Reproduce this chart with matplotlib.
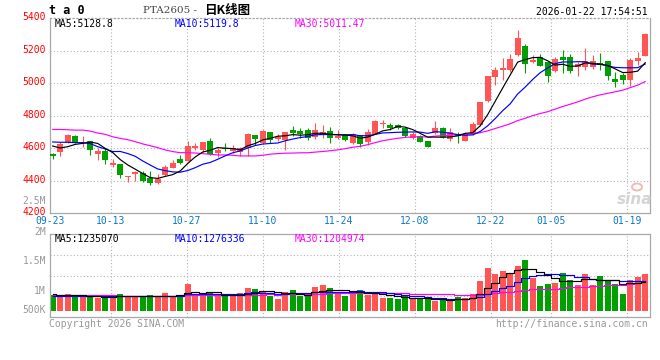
import numpy as np
import pandas as pd
import matplotlib
matplotlib.use('Agg')
import matplotlib.pyplot as plt
from matplotlib.patches import Ellipse
from matplotlib.transforms import ScaledTranslation

# ---------------- data ----------------
date_labels = ['09-23', '10-13', '10-27', '11-10', '11-24', '12-08', '12-22', '01-05', '01-19']
date_index = [0, 8, 18, 28, 38, 48, 58, 66, 76]

opens = [4565, 4580, 4637, 4675, 4649, 4645, 4567, 4584, 4498, 4502,
         4425, 4439, 4449, 4418, 4384, 4435, 4480, 4535, 4522, 4600,
         4590, 4645, 4573, 4604, 4586, 4580, 4600, 4682, 4630, 4701,
         4658, 4654, 4715, 4707, 4713, 4668, 4682, 4707, 4666, 4680,
         4635, 4682, 4641, 4687, 4748, 4744, 4744, 4724, 4662, 4676,
         4645, 4693, 4728, 4657, 4687, 4647, 4687, 4742, 4891, 5037,
         5084, 5084, 5174, 5231, 5129, 5163, 5129, 5074, 5159, 5163,
         5098, 5098, 5098, 5127, 5139, 5027, 5051, 5023, 5139, 5169]
highs = [4573, 4637, 4688, 4680, 4675, 4647, 4604, 4600, 4533, 4504,
         4429, 4459, 4459, 4459, 4439, 4500, 4529, 4559, 4645, 4630,
         4640, 4665, 4604, 4633, 4620, 4610, 4692, 4684, 4714, 4703,
         4687, 4703, 4738, 4724, 4724, 4757, 4744, 4730, 4713, 4687,
         4695, 4683, 4720, 4777, 4775, 4757, 4750, 4730, 4699, 4682,
         4646, 4765, 4730, 4722, 4702, 4702, 4763, 4887, 5047, 5098,
         5155, 5180, 5328, 5241, 5174, 5180, 5129, 5159, 5206, 5180,
         5133, 5220, 5174, 5186, 5139, 5072, 5064, 5155, 5194, 5312]
lows = [4533, 4555, 4630, 4630, 4610, 4559, 4529, 4504, 4486, 4420,
        4390, 4398, 4392, 4376, 4380, 4431, 4476, 4502, 4522, 4590,
        4580, 4559, 4549, 4584, 4569, 4555, 4552, 4621, 4625, 4635,
        4647, 4592, 4676, 4662, 4654, 4660, 4662, 4631, 4658, 4647,
        4627, 4610, 4621, 4685, 4728, 4711, 4717, 4672, 4656, 4637,
        4606, 4689, 4661, 4646, 4635, 4647, 4681, 4736, 4885, 4990,
        5021, 5068, 5167, 5062, 5123, 5104, 5007, 5068, 5062, 5062,
        5043, 5084, 5088, 5084, 5023, 4976, 4997, 4982, 5113, 5169]
closes = [4555, 4624, 4682, 4637, 4654, 4592, 4586, 4529, 4510, 4437,
          4427, 4455, 4396, 4384, 4412, 4488, 4510, 4508, 4614, 4614,
          4639, 4565, 4590, 4596, 4600, 4604, 4688, 4660, 4706, 4649,
          4668, 4701, 4697, 4689, 4662, 4713, 4701, 4666, 4678, 4652,
          4687, 4627, 4701, 4765, 4757, 4728, 4724, 4678, 4689, 4641,
          4610, 4728, 4672, 4698, 4675, 4687, 4748, 4885, 5043, 5084,
          5096, 5149, 5281, 5119, 5145, 5104, 5043, 5149, 5145, 5078,
          5119, 5135, 5139, 5115, 5043, 5011, 5023, 5145, 5153, 5302]
volumes = [654000, 640000, 711000, 625000, 625000, 625000, 540000, 611000, 569000, 711000,
           611000, 640000, 569000, 668000, 583000, 753000, 640000, 640000, 1137000, 725000,
           682000, 796000, 611000, 611000, 611000, 753000, 967000, 924000, 853000, 640000,
           498000, 796000, 881000, 640000, 611000, 1009000, 1095000, 967000, 753000, 640000,
           711000, 881000, 682000, 796000, 540000, 540000, 498000, 611000, 498000, 498000,
           498000, 426000, 498000, 426000, 583000, 540000, 711000, 1279000, 1819000, 1564000,
           1706000, 1606000, 1919000, 2161000, 1393000, 1066000, 1137000, 1180000, 1606000, 1322000,
           1109000, 1564000, 1109000, 1493000, 1322000, 1137000, 711000, 1322000, 1436000, 1564000]

# moving-average values at the start of the window (need data before 09-23)
ma5_head = [4614, 4602, 4610, 4624]
ma10_head = [4639, 4637, 4637, 4635, 4635, 4629, 4610, 4596, 4580]
ma30_head = [4716, 4716, 4714, 4712, 4712, 4706, 4694, 4686, 4671, 4661,
             4653, 4641, 4627, 4616, 4604, 4590, 4580, 4573, 4573, 4571,
             4567, 4563, 4559, 4559, 4557, 4553, 4553, 4553, 4557]
vol_ma5_head = [700000, 690000, 685000, 670000]
vol_ma10_head = [645000, 642000, 640000, 640000, 638000, 636000, 635000, 633000, 632000]
vol_ma30_head = [668000, 668000, 665000, 664000, 662000, 660000, 656000, 652000, 648000, 645000,
                 642000, 640000, 638000, 636000, 636000, 638000, 640000, 642000, 650000, 655000,
                 660000, 665000, 668000, 670000, 672000, 675000, 680000, 685000, 688000]

price_ticks = [4200, 4400, 4600, 4800, 5000, 5200, 5400]
vol_labels = ['2.5M', '2M', '1.5M', '1M', '500K']
price_legend = ['MA5:5128.8', 'MA10:5119.8', 'MA30:5011.47']
vol_legend = ['MA5:1235070', 'MA10:1276336', 'MA30:1204974']
title_code = 'PTA2605 - '
title_kind = '日K线图'
top_left = 't a 0'
timestamp = '2026-01-22 17:54:51'
footer_left = 'Copyright 2026 SINA.COM'
footer_right = 'http://finance.sina.com.cn'

# ---------------- helpers ----------------
def moving_avg(values, n, head):
    s = pd.Series(values, dtype=float).rolling(n).mean().values
    s[:n - 1] = head
    return s

RED = '#ff5555'
GREEN = '#00a000'
GRID = '#b4b4b4'
BORDER = '#a8a8a8'
MONO = 'DejaVu Sans Mono'
FS = 7
W, H = 660, 360
LW = 0.85

o = np.array(opens, float); c = np.array(closes, float)
hi = np.array(highs, float); lo = np.array(lows, float)
vol = np.array(volumes, float)
n = len(c)
x = np.arange(n)
up = c >= o
cols = np.where(up, RED, GREEN)

fig = plt.figure(figsize=(6.6, 3.6), dpi=100)
fig.patch.set_facecolor('white')

def rect(l, t, r, b):
    return [l / W, 1 - b / H, (r - l) / W, (b - t) / H]

ax = fig.add_axes(rect(50, 18.3, 650, 213.3))
axv = fig.add_axes(rect(50, 234.3, 650, 317))

x0 = -0.36
grid_x = [i * n / (n - 1) + x0 for i in date_index]
dot = (0, (1, 2))

for a in (ax, axv):
    a.set_xlim(x0, x0 + n)
    for s in a.spines.values():
        s.set_color(BORDER)
        s.set_linewidth(0.9)
    for gx in grid_x[1:]:
        a.axvline(gx, color=GRID, lw=0.8, ls=dot, zorder=0)

# ---------------- price panel ----------------
ax.set_ylim(4200, 5400)
ax.spines['top'].set_linestyle(dot)
for p in price_ticks[1:-1]:
    ax.axhline(p, color=GRID, lw=0.8, ls=dot, zorder=0)

ax.vlines(x, lo, hi, colors=cols, lw=0.8, zorder=2)
body_h = np.maximum(np.abs(c - o), 5)
ax.bar(x, body_h, bottom=np.minimum(o, c), width=0.78, color=cols, lw=0, zorder=3)

ma5 = moving_avg(c, 5, ma5_head)
ma10 = moving_avg(c, 10, ma10_head)
ma30 = moving_avg(c, 30, ma30_head)
ax.plot(x, ma30, color='#ff00ff', lw=LW, zorder=4)
ax.plot(x, ma10, color='#0000ff', lw=LW, zorder=4)
ax.plot(x, ma5, color='black', lw=LW, zorder=4)

ax.set_yticks(price_ticks)
ax.set_yticklabels([str(p) for p in price_ticks], color='#ff0000', family=MONO, fontsize=FS)
ax.set_xticks(grid_x)
ax.set_xticklabels(date_labels, color='#0a78c8', family=MONO, fontsize=FS)
ax.tick_params(axis='both', length=0)
ax.tick_params(axis='y', pad=3)
ax.tick_params(axis='x', pad=2)
lift = ScaledTranslation(0, 2.0 / 100, fig.dpi_scale_trans)
for lab in ax.get_yticklabels():
    lab.set_transform(lab.get_transform() + lift)

for txt, xp, col in zip(price_legend, [55, 175, 295], ['black', '#0000ff', '#ff00ff']):
    fig.text(xp / W, 1 - 24 / H, txt, color=col, family=MONO, fontsize=FS, va='center', ha='left')

# sina watermark
fig.text(635 / W, 1 - 199 / H, 'sina', color='#d4d4d4', fontsize=11, fontstyle='italic',
         fontweight='bold', ha='center', va='center', family='DejaVu Sans')
fig.patches.append(Ellipse((637 / W, 1 - 187 / H), 10 / W, 7 / H, transform=fig.transFigure,
                           facecolor='none', edgecolor='#f4b8b8', lw=1.4))

# ---------------- volume panel ----------------
axv.set_ylim(-0.269e6, 3.258e6)
axv.set_xticks([]); axv.set_yticks([])
for f in (0.25, 0.5, 0.75):
    axv.plot([0, 1], [f, f], transform=axv.transAxes, color=GRID, lw=0.8, ls=dot, zorder=0)
axv.bar(x, vol, width=0.8, color=cols, lw=0, zorder=2)
vma5 = moving_avg(vol, 5, vol_ma5_head)
vma10 = moving_avg(vol, 10, vol_ma10_head)
vma30 = moving_avg(vol, 30, vol_ma30_head)
axv.plot(x, vma30, color='#ff00ff', lw=LW, drawstyle='steps-mid', zorder=4)
axv.plot(x, vma10, color='#0000ff', lw=LW, drawstyle='steps-mid', zorder=4)
axv.plot(x, vma5, color='black', lw=LW, drawstyle='steps-mid', zorder=4)

for txt, xp, col in zip(vol_legend, [55, 175, 295], ['black', '#0000ff', '#ff00ff']):
    fig.text(xp / W, 1 - 238.7 / H, txt, color=col, family=MONO, fontsize=FS, va='center', ha='left')

for txt, yp in zip(vol_labels, [200.7, 231.5, 260.7, 290.7, 310]):
    fig.text(46 / W, 1 - yp / H, txt, color='#999999', family=MONO, fontsize=FS, va='center', ha='right')

# ---------------- header / footer ----------------
fig.text(49 / W, 1 - 11 / H, top_left, color='black', family=MONO, fontsize=8.5,
         fontweight='bold', va='center', ha='left')
fig.text(200 / W, 1 - 10.5 / H, title_code, color='#444444', family='DejaVu Serif', fontsize=7.5,
         va='center', ha='right')
fig.text(204 / W, 1 - 10.5 / H, title_kind, color='black', family=['Noto Sans CJK SC', 'DejaVu Sans'],
         fontsize=9, va='center', ha='left', fontweight='bold')
fig.text(648 / W, 1 - 12 / H, timestamp, color='black', family=MONO, fontsize=FS, va='center', ha='right')
fig.text(49 / W, 1 - 324 / H, footer_left, color='#999999', family=MONO, fontsize=FS, va='center', ha='left')
fig.text(648 / W, 1 - 324 / H, footer_right, color='#999999', family=MONO, fontsize=FS, va='center', ha='right')

fig.savefig('out.png', dpi=100, facecolor='white')
